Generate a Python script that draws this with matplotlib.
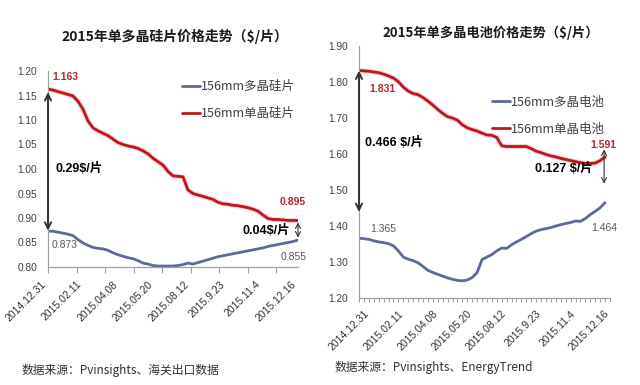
import matplotlib
matplotlib.use("Agg")
import matplotlib.pyplot as plt
import matplotlib.transforms as mtransforms
import matplotlib.patheffects as pe
import numpy as np

plt.rcParams['font.family'] = ['Noto Sans CJK SC', 'DejaVu Sans']

# ---------------- data ----------------
date_labels = ["2014.12.31", "2015.02.11", "2015.04.08", "2015.05.20",
               "2015.08.12", "2015.9.23", "2015.11.4", "2015.12.16"]

wafer_title = "2015年单多晶硅片价格走势（$/片）"
cell_title = "2015年单多晶电池价格走势（$/片）"
wafer_series = ["156mm多晶硅片", "156mm单晶硅片"]
cell_series = ["156mm多晶电池", "156mm单晶电池"]
wafer_source = "数据来源：Pvinsights、海关出口数据"
cell_source = "数据来源：Pvinsights、EnergyTrend"

poly_wafer = [0.873, 0.873, 0.871, 0.869, 0.867, 0.864, 0.856, 0.849, 0.844, 0.840,
              0.838, 0.837, 0.834, 0.829, 0.825, 0.822, 0.819, 0.817, 0.813, 0.808,
              0.806, 0.803, 0.802, 0.802, 0.802, 0.802, 0.803, 0.805, 0.808, 0.806,
              0.809, 0.812, 0.815, 0.818, 0.821, 0.823, 0.825, 0.827, 0.829, 0.831,
              0.833, 0.835, 0.837, 0.839, 0.842, 0.844, 0.846, 0.848, 0.850, 0.852,
              0.855]
mono_wafer = [1.163, 1.161, 1.158, 1.155, 1.152, 1.149, 1.138, 1.122, 1.098, 1.084,
              1.078, 1.073, 1.068, 1.061, 1.054, 1.050, 1.047, 1.045, 1.042, 1.037,
              1.031, 1.022, 1.015, 1.008, 0.995, 0.986, 0.985, 0.984, 0.957, 0.950,
              0.947, 0.944, 0.941, 0.938, 0.932, 0.929, 0.928, 0.926, 0.925, 0.923,
              0.921, 0.918, 0.914, 0.906, 0.899, 0.897, 0.897, 0.896, 0.895, 0.895,
              0.895]
poly_cell = [1.365, 1.364, 1.362, 1.358, 1.355, 1.353, 1.350, 1.344, 1.330, 1.313,
             1.307, 1.303, 1.297, 1.287, 1.276, 1.270, 1.265, 1.260, 1.255, 1.251,
             1.248, 1.247, 1.249, 1.256, 1.270, 1.306, 1.313, 1.320, 1.330, 1.338,
             1.337, 1.347, 1.355, 1.362, 1.370, 1.378, 1.385, 1.389, 1.392, 1.395,
             1.399, 1.403, 1.406, 1.409, 1.413, 1.412, 1.420, 1.431, 1.440, 1.450,
             1.464]
mono_cell = [1.831, 1.830, 1.829, 1.827, 1.825, 1.821, 1.816, 1.810, 1.800, 1.785,
             1.774, 1.767, 1.764, 1.756, 1.746, 1.735, 1.723, 1.712, 1.703, 1.699,
             1.693, 1.680, 1.672, 1.667, 1.663, 1.657, 1.652, 1.651, 1.645, 1.622,
             1.620, 1.620, 1.620, 1.620, 1.620, 1.614, 1.607, 1.603, 1.598, 1.594,
             1.591, 1.587, 1.584, 1.581, 1.578, 1.575, 1.573, 1.573, 1.574, 1.581,
             1.591]

wafer_yticks = [0.80, 0.85, 0.90, 0.95, 1.00, 1.05, 1.10, 1.15, 1.20]
cell_yticks = [1.20, 1.30, 1.40, 1.50, 1.60, 1.70, 1.80, 1.90]

gap_wafer_start = "0.29$/片"
gap_wafer_end = "0.04$/片"
gap_cell_start = "0.466 $/片"
gap_cell_end = "0.127 $/片"

# ---------------- style ----------------
RED = '#C0141C'
BLUE = '#5B6A99'
RED_TXT = '#B8252B'
GRAY_TXT = '#595959'
AX_GRAY = '#A0A0A0'
NUMFONT = ['Liberation Sans', 'Noto Sans CJK SC']

W, H = 640, 385
fig = plt.figure(figsize=(6.4, 3.85), dpi=100)
fig.patch.set_facecolor('white')


def px_axes(x0, y0, x1, y1):
    return fig.add_axes([x0 / W, 1 - y1 / H, (x1 - x0) / W, (y1 - y0) / H])


def style_axes(ax, yticks, fmt):
    for s in ['top', 'right']:
        ax.spines[s].set_visible(False)
    for s in ['left', 'bottom']:
        ax.spines[s].set_color(AX_GRAY)
        ax.spines[s].set_linewidth(0.9)
    ax.set_yticks(yticks)
    ax.set_yticklabels([fmt.format(v) for v in yticks], family=NUMFONT,
                       fontsize=7.3, color='#404040')
    ax.tick_params(axis='y', length=0, pad=8)
    ax.set_facecolor('none')


def date_labels_at(ax, positions, dy):
    trans = mtransforms.blended_transform_factory(ax.transData, ax.transAxes)
    trans = mtransforms.offset_copy(trans, fig=fig, x=0, y=-dy, units='dots')
    for p, lab in zip(positions, date_labels):
        ax.text(p, 0, lab, transform=trans, rotation=45, ha='right', va='top',
                rotation_mode='anchor', fontsize=7.5, color='#303030',
                family=NUMFONT, clip_on=False)


glow = [pe.Stroke(linewidth=3.6, foreground='#F2B8B8', alpha=0.6), pe.Normal()]

# ---------------- left chart: wafers ----------------
ax1 = px_axes(48, 71, 298, 267)
x1 = np.arange(len(mono_wafer))
ax1.plot(x1, poly_wafer, color=BLUE, lw=2.0, solid_capstyle='round',
         label=wafer_series[0])
ax1.plot(x1, mono_wafer, color=RED, lw=2.0, solid_capstyle='round',
         path_effects=glow, label=wafer_series[1])
ax1.set_xlim(0, len(mono_wafer) - 1)
ax1.set_ylim(0.80, 1.20)
style_axes(ax1, wafer_yticks, '{:.2f}')
ax1.set_xticks(np.arange(9) * 5.7)
ax1.set_xticklabels([])
ax1.tick_params(axis='x', length=4, color=AX_GRAY, direction='out')
date_labels_at(ax1, [-1.4 + 7.14 * i for i in range(8)], 12)

arrow_big = dict(arrowstyle='<->,head_length=0.45,head_width=0.22',
                 color='#333333', lw=1.4, shrinkA=0, shrinkB=0)
arrow_small = dict(arrowstyle='<->,head_length=0.35,head_width=0.18',
                   color='#333333', lw=0.8, shrinkA=0, shrinkB=0)
ax1.annotate('', xy=(0, poly_wafer[0] + 0.001), xytext=(0, 1.157),
             arrowprops=arrow_big, annotation_clip=False)
ax1.annotate('', xy=(50, 0.860), xytext=(50, 0.891),
             arrowprops=arrow_small, annotation_clip=False)

ax1.text(0.8, 1.188, f'{mono_wafer[0]:.3f}', color=RED_TXT, fontsize=7.5,
         fontweight='bold', family=NUMFONT, va='center', ha='left')
ax1.text(0.8, 0.845, f'{poly_wafer[0]:.3f}', color=GRAY_TXT, fontsize=7.5,
         family=NUMFONT, va='center', ha='left')
ax1.text(48.9, 0.933, f'{mono_wafer[-1]:.3f}', color=RED_TXT, fontsize=7.5,
         fontweight='bold', family=NUMFONT, va='center', ha='center')
ax1.text(49.1, 0.820, f'{poly_wafer[-1]:.3f}', color=GRAY_TXT, fontsize=7.5,
         family=NUMFONT, va='center', ha='center')
ax1.text(1.4, 1.000, gap_wafer_start, color='black', fontsize=9,
         fontweight='bold', family=NUMFONT, va='center', ha='left')
ax1.text(48.4, 0.8755, gap_wafer_end, color='black', fontsize=9,
         fontweight='bold', family=NUMFONT, va='center', ha='right')

leg1 = ax1.legend(loc='upper left', bbox_to_anchor=(182 / W, 1 - 80 / H),
                  bbox_transform=fig.transFigure, frameon=False, fontsize=9,
                  handlelength=1.45, handletextpad=0.05, borderpad=0,
                  borderaxespad=0, labelspacing=1.15)
for t in leg1.get_texts():
    t.set_color('#404040')
for l in leg1.get_lines():
    l.set_linewidth(2.0)
    l.set_path_effects([])

fig.text(175 / W, 1 - 36 / H, wafer_title, ha='center', va='center',
         fontsize=10, fontweight='bold', color='#1a1a1a')
fig.text(22 / W, 1 - 370 / H, wafer_source, ha='left', va='center',
         fontsize=8.5, color='#333333')

# ---------------- right chart: cells ----------------
ax2 = px_axes(359, 45.7, 610, 297.7)
x2 = np.arange(len(mono_cell))
ax2.plot(x2, poly_cell, color=BLUE, lw=2.0, solid_capstyle='round',
         label=cell_series[0])
ax2.plot(x2, mono_cell, color=RED, lw=2.0, solid_capstyle='round',
         path_effects=glow, label=cell_series[1])
ax2.set_xlim(0, len(mono_cell) - 1)
ax2.set_ylim(1.20, 1.90)
style_axes(ax2, cell_yticks, '{:.2f}')
ax2.set_xticks(np.arange(0, 52))
ax2.set_xticklabels([])
ax2.tick_params(axis='x', length=3, color=AX_GRAY, direction='out', width=0.7)
date_labels_at(ax2, [1.0 + 6.97 * i for i in range(8)], 11)

ax2.annotate('', xy=(0, 1.438), xytext=(0, mono_cell[0]),
             arrowprops=arrow_big, annotation_clip=False)
ax2.annotate('', xy=(49.8, 1.517), xytext=(49.8, 1.612),
             arrowprops=arrow_small, annotation_clip=False)

ax2.text(2.2, 1.780, f'{mono_cell[0]:.3f}', color=RED_TXT, fontsize=7.5,
         fontweight='bold', family=NUMFONT, va='center', ha='left')
ax2.text(2.2, 1.391, f'{poly_cell[0]:.3f}', color=GRAY_TXT, fontsize=7.5,
         family=NUMFONT, va='center', ha='left')
ax2.text(49.7, 1.624, f'{mono_cell[-1]:.3f}', color=RED_TXT, fontsize=7.5,
         fontweight='bold', family=NUMFONT, va='center', ha='center')
ax2.text(49.8, 1.394, f'{poly_cell[-1]:.3f}', color=GRAY_TXT, fontsize=7.5,
         family=NUMFONT, va='center', ha='center')
ax2.text(1.2, 1.630, gap_cell_start, color='black', fontsize=9,
         fontweight='bold', family=NUMFONT, va='center', ha='left')
ax2.text(47.4, 1.560, gap_cell_end, color='black', fontsize=9,
         fontweight='bold', family=NUMFONT, va='center', ha='right')

leg2 = ax2.legend(loc='upper left', bbox_to_anchor=(492 / W, 1 - 95.5 / H),
                  bbox_transform=fig.transFigure, frameon=False, fontsize=9,
                  handlelength=1.45, handletextpad=0.05, borderpad=0,
                  borderaxespad=0, labelspacing=1.14)
for t in leg2.get_texts():
    t.set_color('#404040')
for l in leg2.get_lines():
    l.set_linewidth(2.0)
    l.set_path_effects([])

fig.text(491 / W, 1 - 33 / H, cell_title, ha='center', va='center',
         fontsize=9.5, fontweight='bold', color='#1a1a1a')
fig.text(335 / W, 1 - 368 / H, cell_source, ha='left', va='center',
         fontsize=8.5, color='#333333')

fig.savefig('out.png', dpi=100, facecolor='white')
